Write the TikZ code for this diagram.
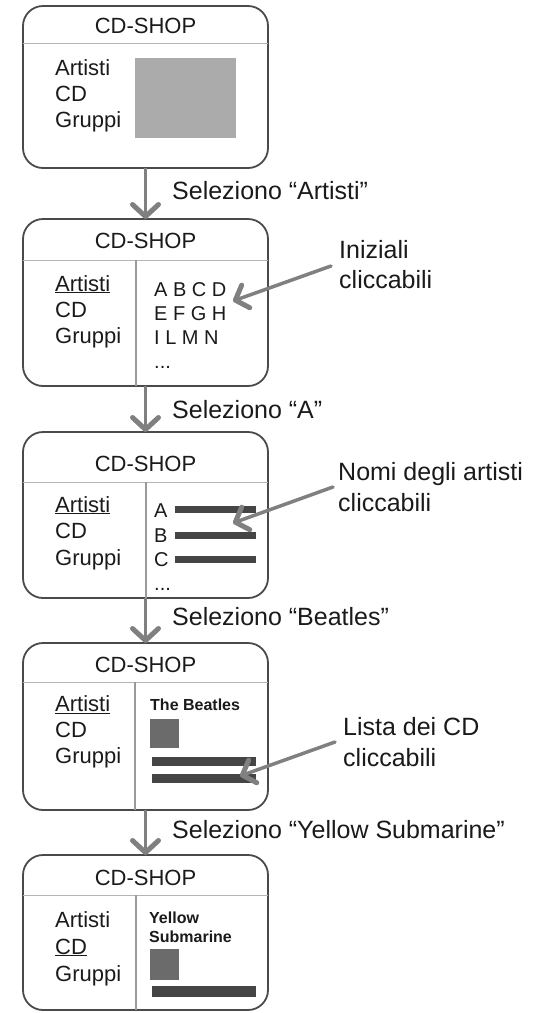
\documentclass[tikz,border=0pt]{standalone}
\usepackage{fontspec}
\setmainfont{Liberation Sans}
\usetikzlibrary{arrows.meta}
\definecolor{boxc}{HTML}{4A4A4A}
\definecolor{arrc}{HTML}{808080}
\definecolor{txtc}{HTML}{1A1A1A}
\definecolor{lgray}{HTML}{ABABAB}
\definecolor{mgray}{HTML}{6B6B6B}
\definecolor{barc}{HTML}{454545}
\definecolor{linec}{HTML}{B4B4B4}
\definecolor{divc}{HTML}{9A9A9A}
\tikzset{
  screen/.style={draw=boxc, line width=1.8pt, rounded corners=20pt, inner sep=0pt, outer sep=0pt, anchor=north west, minimum width=245pt},
  txt/.style={font=\fontsize{22}{26}\selectfont, text=txtc, inner sep=0pt, anchor=base west},
  ttl/.style={font=\fontsize{22}{26}\selectfont, text=txtc, inner sep=0pt, anchor=base},
  ltr/.style={font=\fontsize{20}{24}\selectfont, text=txtc, inner sep=0pt, anchor=base west},
  lbl/.style={font=\fontsize{25}{30}\selectfont, text=txtc, inner sep=0pt, anchor=base west},
  tiny/.style={font=\bfseries\fontsize{16}{19}\selectfont, text=txtc, inner sep=0pt, anchor=base west},
  flow/.style={draw=arrc, line width=3.5pt, -{Straight Barb[length=12pt,width=26pt,line width=5pt,round]}},
  hint/.style={draw=arrc, line width=3.5pt, line cap=round, -{Straight Barb[length=11pt,width=24pt,line width=5pt,round]}},
  hdr/.style={draw=linec, line width=1pt},
  divider/.style={draw=divc, line width=1.4pt},
  bar/.style={fill=barc},
}
\begin{document}
\begin{tikzpicture}[x=1pt, y=-1pt]
\useasboundingbox (0,0) rectangle (538,1013);

% ---------- Screen 1 ----------
\node[screen, minimum height=162pt] (s1) at (23,6) {};
\draw[hdr] (23,43) -- (268,43);
\node[ttl] (t1) at (145.5,33) {CD-SHOP};
\node[txt] (s1a) at (55,75) {Artisti};
\node[txt] (s1b) at (55,101) {CD};
\node[txt] (s1c) at (55,127) {Gruppi};
\fill[lgray] (135,58) rectangle (236,138);

% ---------- Screen 2 ----------
\node[screen, minimum height=167pt] (s2) at (23,219) {};
\draw[hdr] (23,260) -- (268,260);
\draw[divider] (136,260) -- (136,386);
\node[ttl] (t2) at (145.5,248) {CD-SHOP};
\node[txt] (s2a) at (55,291) {\underline{Artisti}};
\node[txt] (s2b) at (55,317) {CD};
\node[txt] (s2c) at (55,343) {Gruppi};
\node[ltr] (l2a) at (154,296) {A B C D};
\node[ltr] (l2b) at (154,320) {E F G H};
\node[ltr] (l2c) at (154,344.5) {I L M N};
\node[ltr] (l2d) at (154,368) {...};

% ---------- Screen 3 ----------
\node[screen, minimum height=166pt] (s3) at (23,432) {};
\draw[hdr] (23,482) -- (268,482);
\draw[divider] (146,482) -- (146,598);
\node[ttl] (t3) at (145.5,471.5) {CD-SHOP};
\node[txt] (s3a) at (55,512) {\underline{Artisti}};
\node[txt] (s3b) at (55,538) {CD};
\node[txt] (s3c) at (55,565) {Gruppi};
\node[ltr] (l3a) at (154,517) {A};
\node[ltr] (l3b) at (154,542) {B};
\node[ltr] (l3c) at (154,566) {C};
\node[ltr] (l3d) at (154,590) {...};
\fill[bar] (175,506) rectangle (256,513);
\fill[bar] (175,532) rectangle (256,539);
\fill[bar] (175,556) rectangle (256,563);

% ---------- Screen 4 ----------
\node[screen, minimum height=167pt] (s4) at (23,643) {};
\draw[hdr] (23,682) -- (268,682);
\draw[divider] (135,682) -- (135,810);
\node[ttl] (t4) at (145.5,672) {CD-SHOP};
\node[txt] (s4a) at (55,711.5) {\underline{Artisti}};
\node[txt] (s4b) at (55,737) {CD};
\node[txt] (s4c) at (55,763) {Gruppi};
\node[tiny] (b4) at (150,710) {The Beatles};
\fill[mgray] (150,719) rectangle (179,748);
\fill[bar] (152,757) rectangle (256,766);
\fill[bar] (152,774) rectangle (256,783);

% ---------- Screen 5 ----------
\node[screen, minimum height=155pt] (s5) at (23,855) {};
\draw[hdr] (23,895) -- (268,895);
\draw[divider] (136,895) -- (136,1010);
\node[ttl] (t5) at (145.5,885) {CD-SHOP};
\node[txt] (s5a) at (55,927) {Artisti};
\node[txt] (s5b) at (55,954) {\underline{CD}};
\node[txt] (s5c) at (55,981) {Gruppi};
\node[tiny] (y5a) at (149,923) {Yellow};
\node[tiny] (y5b) at (149,942) {Submarine};
\fill[mgray] (150,949) rectangle (179,980);
\fill[bar] (152,986) rectangle (256,997);

% ---------- Flow arrows ----------
\draw[flow] (s1.south) -- (s2.north);
\draw[flow] (s2.south) -- (s3.north);
\draw[flow] (s3.south) -- (s4.north);
\draw[flow] (s4.south) -- (s5.north);
\node[lbl] (f1) at (172,199) {Seleziono “Artisti”};
\node[lbl] (f2) at (172,418) {Seleziono “A”};
\node[lbl] (f3) at (172,625) {Seleziono “Beatles”};
\node[lbl] (f4) at (172,838) {Seleziono “Yellow Submarine”};

% ---------- Annotations ----------
\node[lbl] (n1a) at (339,258) {Iniziali};
\node[lbl] (n1b) at (339,288) {cliccabili};
\coordinate (n1s) at (331,266);
\coordinate (n1e) at (233,301);
\draw[hint] (n1s) -- (n1e);

\node[lbl] (n2a) at (338,480) {Nomi degli artisti};
\node[lbl] (n2b) at (338,511) {cliccabili};
\coordinate (n2s) at (333,487);
\coordinate (n2e) at (233,523);
\draw[hint] (n2s) -- (n2e);

\node[lbl] (n3a) at (343,735) {Lista dei CD};
\node[lbl] (n3b) at (343,766) {cliccabili};
\coordinate (n3s) at (335,742);
\coordinate (n3e) at (240,776);
\draw[hint] (n3s) -- (n3e);
\end{tikzpicture}
\end{document}
